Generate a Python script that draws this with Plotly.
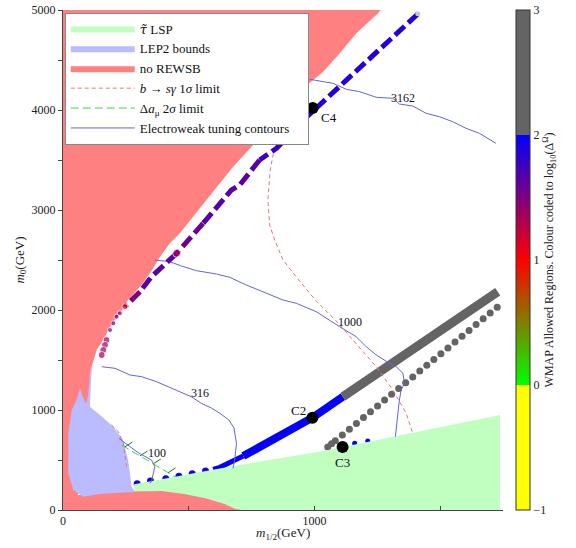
import plotly.graph_objects as go

FONT = "Liberation Serif"

# ---------------- regions (GeV) ----------------
lsp_x = [283, 283, 295, 348, 409, 461, 514, 567, 596, 703, 1020, 1738, 1738]
lsp_y = [0, 258, 262, 288, 312, 336, 362, 388, 402, 450, 583, 950, 0]

rewsb_x = [0, 0, 1264, 1253, 1167, 1101, 1035, 971, 750, 677, 624, 571, 518, 465, 425, 386, 346, 306,
           258, 227, 187, 160, 134, 121, 114, 100, 80, 60, 145, 262, 300, 393, 483, 570, 643, 687, 711]
rewsb_y = [0, 5000, 5000, 4967, 4767, 4567, 4383, 4250, 3633, 3433, 3267, 3100, 2933, 2767, 2667, 2533, 2367, 2233,
           2100, 1967, 1833, 1700, 1600, 1483, 1433, 1000, 400, 150, 172, 185, 188, 190, 160, 115, 60, 10, 0]

lep_x = [114, 107, 147, 200, 239, 259, 273, 286, 262, 145, 81, 41, 21, 21, 35, 54, 68, 76, 92, 100, 108]
lep_y = [1433, 1033, 950, 833, 700, 500, 233, 183, 178, 160, 133, 200, 367, 767, 1000, 1100, 1217, 1150, 1060, 1150, 1400]

# ---------------- limits ----------------
bsg_x = [842, 824, 815, 822, 842, 875, 928, 1007, 1087, 1166, 1246, 1312, 1365, 1391]
bsg_y = [3633, 3400, 3100, 2850, 2700, 2500, 2330, 2090, 1890, 1667, 1433, 1200, 967, 767]
bsg2_x = [193, 220, 240, 246, 253]
bsg2_y = [850, 783, 667, 533, 433]

amu_x = [233, 445]
amu_y = [650, 333]
amu_tick_x = [246, 306, 359, 418]
amu_tick_y = [631, 541, 462, 373]

# ---------------- electroweak tuning contours ----------------
c100_x = [222, 298, 352, 365, 352, 345]
c100_y = [717, 575, 500, 433, 283, 270]
c316_x = [154, 207, 266, 313, 372, 452, 510, 550, 590, 624, 660, 680, 690, 683, 676]
c316_y = [1433, 1417, 1350, 1333, 1283, 1200, 1133, 1067, 1020, 967, 900, 820, 667, 500, 417]
c1000_x = [365, 425, 471, 531, 610, 663, 729, 796, 875, 928, 1007, 1100, 1166, 1206, 1246, 1299, 1325, 1352,
           1358, 1345, 1338, 1332, 1325, 1322]
c1000_y = [2500, 2483, 2440, 2393, 2360, 2327, 2250, 2183, 2100, 2067, 1983, 1833, 1733, 1633, 1550, 1467, 1433, 1367,
           1267, 1200, 1100, 967, 833, 733]
c3162_x = [981, 1034, 1074, 1127, 1180, 1246, 1312, 1338, 1391, 1444, 1497, 1550, 1603, 1656, 1722]
c3162_y = [4307, 4283, 4267, 4207, 4183, 4127, 4117, 4060, 4040, 3967, 3933, 3883, 3817, 3767, 3667]
contour_labels = ["100", "316", "1000", "3162"]
contour_label_x = [372, 544, 1140, 1351]
contour_label_y = [573, 1170, 1883, 4123]

# ---------------- WMAP allowed points (log10 Delta^Omega) ----------------
# focus-point strip, drawn as dashed segments
fp_seg_x = [[1411, 969], [969, 849, 782], [782, 703, 670, 557], [557, 452], [452, 352, 306], [306, 246]]
fp_seg_y = [[4960, 3930], [3930, 3617, 3500], [3500, 3250, 3200, 2867], [2867, 2567], [2567, 2333, 2183], [2183, 2033]]
fp_seg_val = [1.86, 1.76, 1.66, 1.58, 1.64, 1.5]
fp_dot_x = [452, 246, 226, 213, 200, 187, 173, 167, 160, 154]
fp_dot_y = [2567, 2033, 1967, 1933, 1867, 1800, 1700, 1650, 1600, 1550]
fp_dot_val = [1.35, 1.05, 1.6, 1.6, 1.6, 1.6, 1.36, 1.36, 1.36, 1.36]

# coannihilation strip
co_dot_x = [295, 348, 409, 461, 514, 567]
co_dot_y = [262, 290, 313, 337, 363, 390]
co_dot_val = [1.9, 1.9, 1.9, 1.9, 1.9, 1.9]
band_lo_x = [597, 624, 717]
band_lo_y = [407, 427, 540]
band_hi_x = [717, 849, 992, 1113]
band_hi_y = [540, 733, 923, 1133]
band_blue_val = 1.97
band_grey_x = [1113, 1729]
band_grey_y = [1133, 2183]
band_grey_val = 2.5

# second strip
st_x = [1053, 1068, 1083, 1111, 1139, 1167, 1195, 1223, 1251, 1279, 1307, 1335, 1363, 1391, 1419, 1447, 1475,
        1503, 1531, 1559, 1587, 1615, 1643, 1671, 1699, 1727]
st_y = [630, 662, 692, 750, 808, 866, 924, 983, 1041, 1099, 1157, 1215, 1273, 1331, 1389, 1447, 1505,
        1563, 1621, 1679, 1737, 1796, 1854, 1912, 1970, 2028]
st_val = [2.5] * len(st_x)
st_blue_x = [1160, 1212]
st_blue_y = [667, 690]

# benchmark points
bench_names = ["C2", "C3", "C4"]
bench_x = [992, 1112, 993]
bench_y = [922, 630, 4020]
bench_label_x = [935, 1113, 1056]
bench_label_y = [1000, 473, 3925]

COLORSCALE = [[0, "rgb(255,255,0)"], [0.25, "rgb(255,255,0)"], [0.25, "rgb(0,255,0)"],
              [0.5, "rgb(255,0,0)"], [0.75, "rgb(0,0,255)"], [0.75, "rgb(100,100,100)"],
              [1, "rgb(100,100,100)"]]


def vcol(v):
    if v < 0:
        return "rgb(255,255,0)"
    if v < 1:
        return "rgb(%d,%d,0)" % (255 * v, 255 * (1 - v))
    if v <= 2:
        t = v - 1
        return "rgb(%d,0,%d)" % (255 * (1 - t), 255 * t)
    return "rgb(100,100,100)"


fig = go.Figure()

# points lying under the stau-LSP region
fig.add_trace(go.Scatter(x=co_dot_x, y=co_dot_y, mode="markers", showlegend=False, hoverinfo="skip",
                         marker=dict(size=7, color=[vcol(v) for v in co_dot_val])))
fig.add_trace(go.Scatter(x=band_lo_x, y=band_lo_y, mode="lines", showlegend=False, hoverinfo="skip",
                         line=dict(width=5, color=vcol(band_blue_val))))
fig.add_trace(go.Scatter(x=band_hi_x, y=band_hi_y, mode="lines", showlegend=False, hoverinfo="skip",
                         line=dict(width=8, color=vcol(band_blue_val))))
fig.add_trace(go.Scatter(x=band_grey_x, y=band_grey_y, mode="lines", showlegend=False, hoverinfo="skip",
                         line=dict(width=9, color=vcol(band_grey_val))))
fig.add_trace(go.Scatter(x=st_blue_x, y=st_blue_y, mode="markers", showlegend=False, hoverinfo="skip",
                         marker=dict(size=5, color=vcol(band_blue_val))))
fig.add_trace(go.Scatter(
    x=st_x, y=st_y, mode="markers", showlegend=False, hoverinfo="skip",
    marker=dict(size=7, color=st_val, colorscale=COLORSCALE, cmin=-1, cmax=3, showscale=True,
                colorbar=dict(x=1.029, xanchor="left", thickness=14, len=1, lenmode="fraction",
                              y=0.5, yanchor="middle", xpad=0, ypad=0,
                              tickvals=[-1, 0, 1, 2, 3], ticktext=["\u22121", "0", "1", "2", "3"],
                              ticks="", outlinewidth=1, outlinecolor="#333",
                              tickfont=dict(family=FONT, size=12, color="#222"),
                              title=dict(text="WMAP Allowed Regions. Colour coded to log<sub>10</sub>(\u0394<sup>\u03a9</sup>)",
                                         side="right", font=dict(family=FONT, size=12, color="#222"))))))

# regions
fig.add_trace(go.Scatter(x=lsp_x, y=lsp_y, fill="toself", mode="lines", fillcolor="#c1ffc1",
                         line=dict(width=0, color="#c1ffc1"),
                         name="<span style='font-family:DejaVu Serif'><i>\u03c4\u0303</i></span> LSP",
                         legendrank=1, hoverinfo="skip"))
fig.add_trace(go.Scatter(x=rewsb_x, y=rewsb_y, fill="toself", mode="lines", fillcolor="#ff8080",
                         line=dict(width=0, color="#ff8080"), name="no REWSB", legendrank=3, hoverinfo="skip"))
fig.add_trace(go.Scatter(x=lep_x, y=lep_y, fill="toself", mode="lines", fillcolor="#bbbbff",
                         line=dict(width=0, color="#bbbbff"), name="LEP2 bounds", legendrank=2, hoverinfo="skip"))

# limits
fig.add_trace(go.Scatter(x=bsg_x, y=bsg_y, mode="lines", line=dict(color="#e07878", width=1, dash="4px,3px"),
                         name="<i>b</i> \u2192 <i>s\u03b3</i> 1<i>\u03c3</i> limit", legendrank=4, hoverinfo="skip"))
fig.add_trace(go.Scatter(x=bsg2_x, y=bsg2_y, mode="lines", line=dict(color="#e07878", width=1, dash="4px,3px"),
                         showlegend=False, hoverinfo="skip"))
fig.add_trace(go.Scatter(x=amu_x, y=amu_y, mode="lines", line=dict(color="#33dd33", width=1, dash="8px,4px"),
                         name="\u0394<i>a</i><sub>\u03bc</sub> 2<i>\u03c3</i> limit", legendrank=5, hoverinfo="skip"))
for tx, ty in zip(amu_tick_x, amu_tick_y):
    fig.add_trace(go.Scatter(x=[tx, tx + 30], y=[ty, ty + 48], mode="lines", showlegend=False, hoverinfo="skip",
                             line=dict(color="#1e7a1e", width=1)))

# tuning contours
for i, (cx, cy) in enumerate([(c100_x, c100_y), (c316_x, c316_y), (c1000_x, c1000_y), (c3162_x, c3162_y)]):
    fig.add_trace(go.Scatter(x=cx, y=cy, mode="lines", line=dict(color="#6464d8", width=1),
                             name="Electroweak tuning contours\u00a0\u00a0\u00a0\u00a0", showlegend=(i == 0),
                             legendrank=6, hoverinfo="skip"))

# focus point strip
for sx, sy, sv in zip(fp_seg_x, fp_seg_y, fp_seg_val):
    fig.add_trace(go.Scatter(x=sx, y=sy, mode="lines", showlegend=False, hoverinfo="skip",
                             line=dict(width=5, color=vcol(sv), dash="13px,5px")))
fig.add_trace(go.Scatter(x=fp_dot_x, y=fp_dot_y, mode="markers", showlegend=False, hoverinfo="skip",
                         marker=dict(size=[8, 6, 5, 5, 5, 5, 7, 7, 7, 7], color=[vcol(v) for v in fp_dot_val])))
fig.add_trace(go.Scatter(x=[1411], y=[4962], mode="markers", showlegend=False, hoverinfo="skip",
                         marker=dict(size=5, color="#c8c8c8")))

# benchmark points
fig.add_trace(go.Scatter(x=bench_x, y=bench_y, mode="markers", showlegend=False, hoverinfo="skip",
                         marker=dict(size=12, color="black")))

for t, x, y in zip(bench_names, bench_label_x, bench_label_y):
    fig.add_annotation(x=x, y=y, text=t, showarrow=False, font=dict(family=FONT, size=13, color="#111"))
for t, x, y in zip(contour_labels, contour_label_x, contour_label_y):
    fig.add_annotation(x=x, y=y, text=t, showarrow=False, font=dict(family=FONT, size=12, color="#111"))

# x-axis title placed just below the tick labels
fig.add_annotation(x=0.5, y=-0.047, xref="paper", yref="paper", yanchor="middle",
                   text="<i>m</i><sub>1/2</sub>(GeV)", showarrow=False,
                   font=dict(family=FONT, size=13, color="#222"))

fig.update_layout(
    width=576, height=548,
    margin=dict(l=63, r=73, t=10, b=38, autoexpand=False),
    paper_bgcolor="white", plot_bgcolor="white",
    font=dict(family=FONT, size=12, color="#222"),
    showlegend=True,
    legend=dict(x=0.004, y=0.995, xanchor="left", yanchor="top", bgcolor="white",
                bordercolor="#888", borderwidth=1, font=dict(family=FONT, size=13, color="#111"),
                itemwidth=64, tracegroupgap=0),
    xaxis=dict(range=[0, 1750], tickvals=[0, 500, 1000, 1500], ticktext=["0", "", "1000", ""],
               ticks="inside", ticklen=4, tickcolor="#444", showline=True, linecolor="#444", linewidth=1,
               showgrid=False, zeroline=False, tickfont=dict(family=FONT, size=12)),
    yaxis=dict(range=[0, 5000], tickvals=list(range(0, 5001, 500)),
               ticktext=["0", "", "1000", "", "2000", "", "3000", "", "4000", "", "5000"],
               ticks="outside", ticklen=4, tickcolor="#444", showline=True, linecolor="#444", linewidth=1,
               showgrid=False, zeroline=False, tickfont=dict(family=FONT, size=12),
               title=dict(text="<i>m</i><sub>0</sub>(GeV)", font=dict(family=FONT, size=13), standoff=4)),
)

fig.write_html("out.html", config={"displayModeBar": False},
               post_script="document.body.style.margin='0';")
